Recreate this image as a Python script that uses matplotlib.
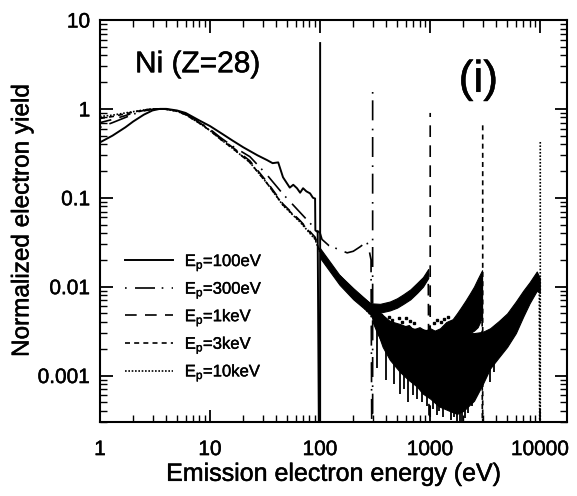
import matplotlib
matplotlib.use('Agg')
import matplotlib.pyplot as plt
import matplotlib.patheffects as pe
from matplotlib.ticker import FixedLocator, FuncFormatter, LogLocator, NullFormatter
import numpy as np

plt.rcParams['font.family'] = ['Liberation Sans', 'DejaVu Sans']
plt.rcParams['mathtext.fontset'] = 'custom'
plt.rcParams['mathtext.rm'] = 'Liberation Sans'
plt.rcParams['mathtext.it'] = 'Liberation Sans:italic'

# primary energies (eV) and heights of the elastic peaks
Ep = [100, 300, 1000, 3000, 10000]
elastic_peak = [5.5, 1.8, 0.9, 0.67, 0.44]
labels = [r'E$_\mathrm{p}$=100eV', r'E$_\mathrm{p}$=300eV', r'E$_\mathrm{p}$=1keV',
          r'E$_\mathrm{p}$=3keV', r'E$_\mathrm{p}$=10keV']

# secondary + backscattered spectra (normalized to the true-secondary peak)
E_100 = [1, 1.3, 1.7, 2, 2.5, 3, 3.5, 4, 5, 6, 8, 10, 13, 16, 20, 27, 33, 37, 41.6, 46,
         53, 57, 61.6, 65.8, 70, 75, 81, 86, 90, 90.5, 95]
Y_100 = [0.42, 0.5, 0.62, 0.72, 0.86, 0.96, 1.0, 1.0, 0.96, 0.9, 0.74, 0.64, 0.52, 0.44,
         0.37, 0.30, 0.265, 0.245, 0.25, 0.17, 0.13, 0.14, 0.128, 0.114, 0.128, 0.118,
         0.112, 0.10, 0.098, 0.043, 0.041]

E_300 = [1, 1.3, 1.7, 2, 2.5, 3, 3.5, 4, 5, 6, 8, 10, 12.3, 16, 23, 33, 46, 66, 90, 100,
         104, 120, 150, 176, 200, 230, 265, 275, 290]
Y_300 = [0.62, 0.7, 0.8, 0.87, 0.95, 0.99, 1.0, 0.99, 0.95, 0.88, 0.71, 0.59, 0.48, 0.38,
         0.29, 0.18, 0.11, 0.068, 0.045, 0.040, 0.034, 0.029, 0.026, 0.024, 0.025, 0.028,
         0.032, 0.028, 0.02]

E_1k = [1, 1.3, 1.7, 2, 2.5, 3, 3.5, 4, 5, 6, 8, 10, 12.3, 16, 23, 33, 46, 66, 90, 100,
        150, 200, 285, 330, 430, 570, 760, 960]
Y_1k = [0.70, 0.76, 0.84, 0.9, 0.96, 0.99, 1.0, 0.99, 0.95, 0.87, 0.70, 0.58, 0.47, 0.37,
        0.26, 0.15, 0.085, 0.055, 0.036, 0.025, 0.012, 0.0085, 0.0058, 0.0057, 0.0062,
        0.0073, 0.0096, 0.014]

E_3k = [1, 1.3, 1.7, 2, 2.5, 3, 3.5, 4, 5, 6, 8, 10, 12.3, 16, 23, 33, 46, 66, 90, 100,
        150, 200, 300, 500, 800, 1230, 1750, 2300, 2960]
Y_3k = [0.78, 0.82, 0.88, 0.92, 0.97, 1.0, 1.0, 0.99, 0.94, 0.86, 0.69, 0.57, 0.46, 0.36,
        0.25, 0.145, 0.083, 0.054, 0.035, 0.024, 0.012, 0.0082, 0.005, 0.0028, 0.0022,
        0.0022, 0.0033, 0.006, 0.013]

E_10k = [1, 1.3, 1.7, 2, 2.5, 3, 3.5, 4, 5, 6, 8, 10, 12.3, 16, 23, 33, 46, 66, 90, 100,
         150, 200, 300, 500, 800, 1500, 2500, 3500, 5000, 7000, 9300, 9800]
Y_10k = [0.82, 0.85, 0.9, 0.93, 0.97, 1.0, 1.0, 0.99, 0.94, 0.86, 0.69, 0.57, 0.46, 0.36,
         0.25, 0.145, 0.082, 0.053, 0.034, 0.024, 0.012, 0.008, 0.0045, 0.0022, 0.0014,
         0.0011, 0.0013, 0.0021, 0.0033, 0.0065, 0.0125, 0.011]

# statistical scatter of the high-energy spectra (lower / upper envelopes)
band_1k_E = [150, 200, 285, 350, 430, 500, 570, 660, 760, 860, 960]
band_1k_lo = [0.0110, 0.0078, 0.0052, 0.0051, 0.0054, 0.0058, 0.0064, 0.0072, 0.0085,
              0.0100, 0.0125]
band_1k_hi = [0.0135, 0.0096, 0.0065, 0.0064, 0.0068, 0.0074, 0.0082, 0.0093, 0.0110,
              0.0128, 0.0158]

band_3k_E = [300, 330, 400, 480, 550, 640, 700, 800, 900, 1000, 1100, 1230, 1400, 1600,
             1750, 1900, 2100, 2300, 2500, 2700, 2960]
band_3k_lo = [0.0040, 0.0030, 0.0019, 0.0015, 0.0014, 0.0012, 0.0012, 0.0011, 0.0011,
              0.0011, 0.0011, 0.0012, 0.0013, 0.0016, 0.0018, 0.0022, 0.0026, 0.0030,
              0.0032, 0.0035, 0.0045]
band_3k_hi = [0.0056, 0.0048, 0.0042, 0.0038, 0.0035, 0.0037, 0.0033, 0.0035, 0.0032,
              0.0034, 0.0032, 0.0034, 0.0040, 0.0043, 0.0050, 0.0058, 0.0070, 0.0084,
              0.0100, 0.0122, 0.0153]

band_10k_E = [100, 150, 200, 250, 290, 320, 370, 430, 530, 630, 760, 850, 1000, 1200,
              1500, 1750, 2000, 2500, 3000, 3500, 4200, 5000, 6000, 7000, 8000, 9300, 9900]
band_10k_lo = [0.021, 0.0105, 0.0072, 0.0057, 0.0048, 0.0035, 0.0021, 0.0015, 0.0011,
               0.0009, 0.00075, 0.00063, 0.00055, 0.00045, 0.0004, 0.00037, 0.0004,
               0.00052, 0.0008, 0.0012, 0.0016, 0.0021, 0.003, 0.0046, 0.0065, 0.0090,
               0.0085]
band_10k_hi = [0.027, 0.0135, 0.0092, 0.0074, 0.0064, 0.0056, 0.0048, 0.0041, 0.0038,
               0.0035, 0.0033, 0.0033, 0.0032, 0.0031, 0.0030, 0.0030, 0.0030, 0.0030,
               0.0031, 0.0034, 0.0041, 0.0050, 0.0068, 0.0090, 0.0112, 0.0148, 0.0125]

# deepest downward fluctuations of the 10 keV spectrum
spike_E = [330, 400, 470, 530, 580, 630, 700, 760, 850, 930, 1070, 1150, 1200, 1320,
           1400, 1550, 1650, 1750, 1870, 1960, 2050, 2200, 2400, 2650, 3500, 3800]
spike_Y = [0.0012, 0.0009, 0.0008, 0.00062, 0.0007, 0.0005, 0.0006, 0.00055, 0.0005,
           0.00045, 0.00042, 0.00036, 0.0004, 0.00034, 0.00042, 0.00032, 0.00034, 0.0003,
           0.0003, 0.00031, 0.00033, 0.00038, 0.00045, 0.0006, 0.00085, 0.0011]

# isolated upward fluctuations above the 3-10 keV cloud
speck_E = [360, 420, 450, 520, 560, 600, 650, 720, 1080, 1150, 1250, 1330, 1450]
speck_Y = [0.0048, 0.0045, 0.0042, 0.0044, 0.0040, 0.0044, 0.0041, 0.0039, 0.0039,
           0.0042, 0.0040, 0.0043, 0.0046]

floor = 1e-6  # signal between the spectrum end and the elastic peak

styles = [
    dict(linestyle='-', linewidth=1.4),
    dict(linestyle=(0, (1, 5, 12, 4)), linewidth=1.2),
    dict(linestyle=(0, (7, 5)), linewidth=1.2),
    dict(linestyle=(0, (3, 2.5)), linewidth=1.2),
    dict(linestyle=(0, (1, 1)), linewidth=1.2),
]

bold = [pe.withStroke(linewidth=0.35, foreground='black')]

fig = plt.figure(figsize=(5.77, 4.96), dpi=100)
ax = fig.add_axes([0.1733, 0.1492, 0.8094, 0.8105])

series = [(E_100, Y_100), (E_300, Y_300), (E_1k, Y_1k), (E_3k, Y_3k), (E_10k, Y_10k)]
for (E, Y), ep, peak, lab, st in zip(series, Ep, elastic_peak, labels, styles):
    x = list(E) + [ep, ep]
    y = list(Y) + [floor, peak]
    ax.plot(x, y, color='black', label=lab, **st)

for bE, lo, hi in [(band_1k_E, band_1k_lo, band_1k_hi),
                   (band_3k_E, band_3k_lo, band_3k_hi),
                   (band_10k_E, band_10k_lo, band_10k_hi)]:
    ax.fill_between(bE, lo, hi, color='black', linewidth=0.8, edgecolor='black')

spike_top = np.exp(np.interp(np.log(spike_E), np.log(band_10k_E), np.log(band_10k_lo)))
ax.vlines(spike_E, spike_Y, spike_top * 1.2, color='black', linewidth=1.3)
ax.plot(speck_E, speck_Y, 's', color='black', markersize=1.8)

ax.set_xscale('log')
ax.set_yscale('log')
ax.set_xlim(1, 17500)
ax.set_ylim(3e-4, 10)

ax.xaxis.set_major_locator(FixedLocator([1, 10, 100, 1000, 10000]))
ax.yaxis.set_major_locator(FixedLocator([0.001, 0.01, 0.1, 1, 10]))
ax.xaxis.set_minor_locator(LogLocator(base=10, subs=np.arange(2, 10)))
ax.yaxis.set_minor_locator(LogLocator(base=10, subs=np.arange(2, 10)))
ax.xaxis.set_minor_formatter(NullFormatter())
ax.yaxis.set_minor_formatter(NullFormatter())
ax.xaxis.set_major_formatter(FuncFormatter(lambda v, p: '%g' % v))
ax.yaxis.set_major_formatter(FuncFormatter(lambda v, p: '%g' % v))

ax.tick_params(which='both', direction='in', top=True, right=True, labelsize=15)
ax.tick_params(which='major', length=9, width=1.3)
ax.tick_params(which='minor', length=5, width=1.0)
ax.tick_params(axis='x', pad=13)
ax.tick_params(axis='y', pad=7)
for sp in ax.spines.values():
    sp.set_linewidth(1.5)
for t in ax.get_xticklabels() + ax.get_yticklabels():
    t.set_path_effects(bold)

ax.set_xlabel('Emission electron energy (eV)', fontsize=18, labelpad=2, path_effects=bold)
ax.set_ylabel('Normalized electron yield', fontsize=17.5, labelpad=3, path_effects=bold)

ax.text(0.075, 0.87, 'Ni (Z=28)', transform=ax.transAxes, fontsize=21.5, path_effects=bold)
ax.text(0.81, 0.85, '(i)', transform=ax.transAxes, fontsize=32, ha='center', va='center',
        path_effects=bold)

leg = ax.legend(loc='upper left', bbox_to_anchor=(0.053, 0.425), frameon=False, fontsize=12,
                handlelength=2.9, handletextpad=0.7, labelspacing=0.3, borderpad=0,
                borderaxespad=0)
for t in leg.get_texts():
    t.set_path_effects([pe.withStroke(linewidth=0.3, foreground='black')])

plt.savefig('out.png', dpi=100)
